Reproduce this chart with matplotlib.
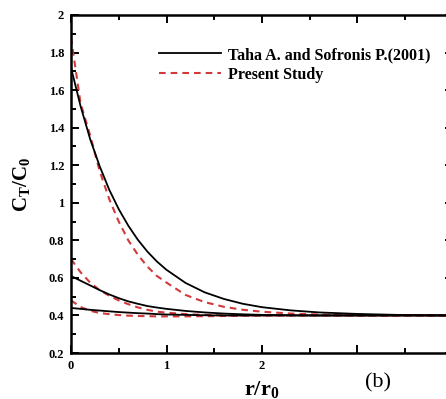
import matplotlib
matplotlib.use("Agg")
import matplotlib.pyplot as plt
from matplotlib.ticker import MultipleLocator, FixedLocator
from matplotlib.lines import Line2D

plt.rcParams['font.family'] = ['Liberation Serif', 'DejaVu Serif']
plt.rcParams['mathtext.fontset'] = 'custom'
plt.rcParams['mathtext.rm'] = 'Liberation Serif'
plt.rcParams['mathtext.bf'] = 'Liberation Serif:bold'

# r/r0 sample positions
x = [0, 0.1, 0.2, 0.3, 0.4, 0.5, 0.6, 0.7, 0.8, 0.9, 1.0,
     1.2, 1.4, 1.6, 1.8, 2.0, 2.3, 2.6, 3.0, 3.5, 4.0]

# Taha A. and Sofronis P.(2001) - solid black
taha_high = [1.72, 1.515, 1.34, 1.195, 1.07, 0.966, 0.878, 0.803, 0.74, 0.687, 0.643,
             0.573, 0.523, 0.488, 0.462, 0.444, 0.427, 0.416, 0.408, 0.402, 0.40]
taha_mid = [0.61, 0.585, 0.56, 0.535, 0.512, 0.492, 0.475, 0.462, 0.45, 0.442, 0.435,
            0.424, 0.416, 0.41, 0.406, 0.403, 0.401, 0.40, 0.40, 0.40, 0.40]
taha_low = [0.44, 0.435, 0.43, 0.426, 0.422, 0.418, 0.415, 0.412, 0.41, 0.407, 0.405,
            0.403, 0.401, 0.40, 0.40, 0.40, 0.40, 0.40, 0.40, 0.40, 0.40]

# Present Study - dashed red
present_high = [1.88, 1.53, 1.36, 1.17, 1.02, 0.90, 0.80, 0.723, 0.66, 0.61, 0.575,
                0.509, 0.471, 0.446, 0.43, 0.42, 0.41, 0.405, 0.40, 0.40, 0.40]
present_mid = [0.70, 0.63, 0.575, 0.535, 0.505, 0.48, 0.46, 0.443, 0.43, 0.42, 0.415,
               0.407, 0.403, 0.40, 0.40, 0.40, 0.40, 0.40, 0.40, 0.40, 0.40]
present_low = [0.48, 0.445, 0.425, 0.413, 0.407, 0.402, 0.399, 0.397, 0.396, 0.395, 0.395,
               0.395, 0.396, 0.397, 0.398, 0.399, 0.40, 0.40, 0.40, 0.40, 0.40]

x_tick_labels = ['0', '1', '2', '', '']
red = '#d2393b'

fig = plt.figure(figsize=(4.46, 3.99), dpi=100)
W, H = 446, 399
ax = fig.add_axes([71 / W, (H - 353) / H, 382 / W, 338 / H])

dash = (0, (3.2, 2.4))
for ys in (present_high, present_mid, present_low):
    ax.plot(x, ys, color=red, lw=1.5, linestyle=dash)
for ys in (taha_high, taha_mid, taha_low):
    ax.plot(x, ys, color='black', lw=1.3)

ax.set_xlim(0, 4)
ax.set_ylim(0.2, 2)

ax.xaxis.set_major_locator(FixedLocator([0, 1, 2, 3, 4]))
ax.set_xticklabels(x_tick_labels)
ax.xaxis.set_minor_locator(MultipleLocator(0.5))
ax.set_yticks([0.2, 0.4, 0.6, 0.8, 1.0, 1.2, 1.4, 1.6, 1.8, 2.0])
ax.set_yticklabels(['0.2', '0.4', '0.6', '0.8', '1', '1.2', '1.4', '1.6', '1.8', '2'])
ax.yaxis.set_minor_locator(MultipleLocator(0.1))

ax.tick_params(which='both', direction='in', top=True, right=True, width=1.4)
ax.tick_params(which='major', length=6, labelsize=9, pad=5)
ax.tick_params(which='minor', length=3.5)
for lab in ax.get_xticklabels() + ax.get_yticklabels():
    lab.set_fontweight('bold')
for sp in ax.spines.values():
    sp.set_linewidth(1.8)

ax.set_ylabel(r'$\mathbf{C_T/C_0}$', fontsize=15, labelpad=12)
ax.set_xlabel(r'$\mathbf{r/r_0}$', fontsize=16, labelpad=5)

fig.text(378 / W, 1 - 383 / H, '(b)', fontsize=16, ha='center', va='center')

handles = [Line2D([], [], color='black', lw=1.3),
           Line2D([], [], color=red, lw=1.5, linestyle=dash)]
leg = ax.legend(handles, ['Taha A. and Sofronis P.(2001)', 'Present Study'],
                loc='upper left', bbox_to_anchor=(159 / W, 1 - 47 / H),
                bbox_transform=fig.transFigure, frameon=False,
                handlelength=3.9, handletextpad=0.4, labelspacing=0.25,
                borderpad=0, borderaxespad=0,
                prop={'family': 'Liberation Serif', 'weight': 'bold', 'size': 11.5})

fig.savefig('out.png', dpi=100)
